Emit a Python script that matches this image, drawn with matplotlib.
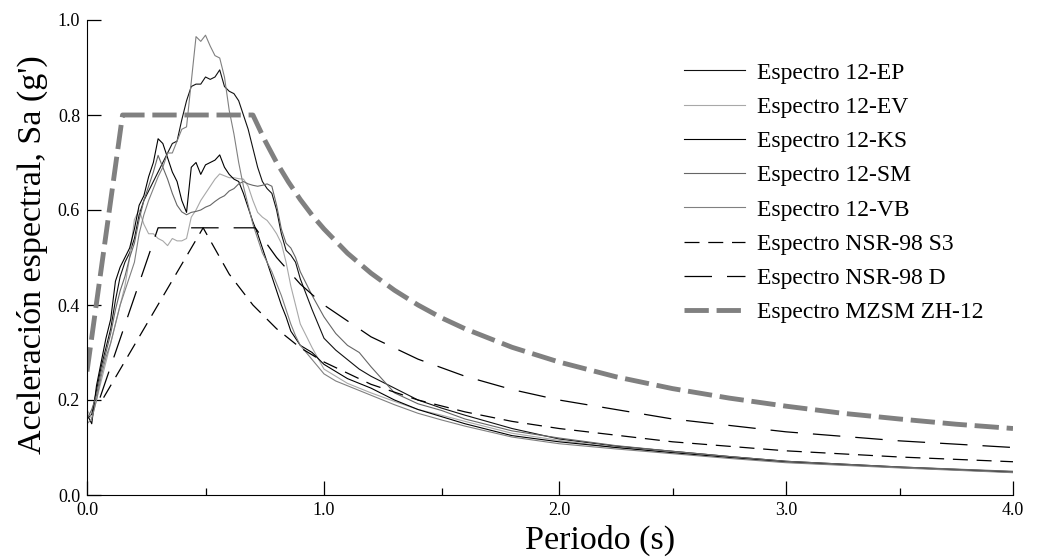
from matplotlib import pyplot as plt
from matplotlib.ticker import FixedLocator, FormatStrFormatter, MultipleLocator
import numpy as np

t_rec = [0.00, 0.02, 0.04, 0.06, 0.08, 0.10, 0.12, 0.14, 0.16, 0.18,
         0.20, 0.22, 0.24, 0.26, 0.28, 0.30, 0.32, 0.34, 0.36, 0.38,
         0.40, 0.42, 0.44, 0.46, 0.48, 0.50, 0.52, 0.54, 0.56, 0.58,
         0.60, 0.62, 0.64, 0.66, 0.68, 0.70, 0.72, 0.74, 0.76, 0.78,
         0.80, 0.82, 0.84, 0.86, 0.88, 0.90, 0.95, 1.00, 1.05, 1.10,
         1.15, 1.20, 1.30, 1.40, 1.50, 1.60, 1.80, 2.00, 2.25, 2.50,
         2.75, 3.00, 3.50, 4.00]

sa_ep = [0.16, 0.17, 0.22, 0.27, 0.31, 0.35, 0.41, 0.46, 0.49, 0.51,
         0.54, 0.59, 0.62, 0.64, 0.66, 0.68, 0.70, 0.72, 0.74, 0.745,
         0.79, 0.83, 0.86, 0.865, 0.865, 0.88, 0.875, 0.88, 0.895, 0.86,
         0.85, 0.845, 0.83, 0.80, 0.77, 0.73, 0.69, 0.66, 0.645, 0.635,
         0.60, 0.55, 0.515, 0.505, 0.49, 0.455, 0.39, 0.33, 0.305, 0.285,
         0.265, 0.25, 0.225, 0.20, 0.183, 0.168, 0.14, 0.118, 0.103, 0.092,
         0.081, 0.071, 0.059, 0.049]

sa_ev = [0.18, 0.16, 0.20, 0.24, 0.28, 0.32, 0.36, 0.40, 0.44, 0.50,
         0.58, 0.60, 0.57, 0.55, 0.55, 0.54, 0.535, 0.525, 0.54, 0.535,
         0.535, 0.54, 0.585, 0.60, 0.62, 0.635, 0.65, 0.665, 0.676, 0.672,
         0.668, 0.668, 0.666, 0.665, 0.65, 0.62, 0.595, 0.585, 0.578, 0.565,
         0.55, 0.53, 0.49, 0.44, 0.40, 0.36, 0.31, 0.265, 0.25, 0.235,
         0.225, 0.215, 0.197, 0.18, 0.168, 0.155, 0.13, 0.115, 0.10, 0.09,
         0.08, 0.069, 0.058, 0.049]

sa_ks = [0.17, 0.15, 0.23, 0.28, 0.33, 0.37, 0.45, 0.48, 0.50, 0.52,
         0.56, 0.61, 0.63, 0.67, 0.70, 0.75, 0.74, 0.71, 0.68, 0.66,
         0.62, 0.595, 0.69, 0.70, 0.675, 0.695, 0.70, 0.705, 0.716, 0.69,
         0.675, 0.665, 0.66, 0.635, 0.605, 0.575, 0.55, 0.52, 0.49, 0.46,
         0.43, 0.40, 0.375, 0.345, 0.33, 0.315, 0.30, 0.275, 0.26, 0.245,
         0.235, 0.225, 0.20, 0.18, 0.165, 0.15, 0.125, 0.112, 0.10, 0.089,
         0.079, 0.07, 0.058, 0.048]

sa_sm = [0.16, 0.18, 0.21, 0.26, 0.30, 0.34, 0.39, 0.43, 0.46, 0.50,
         0.53, 0.58, 0.62, 0.65, 0.68, 0.715, 0.69, 0.665, 0.635, 0.61,
         0.596, 0.59, 0.595, 0.597, 0.60, 0.606, 0.61, 0.618, 0.625, 0.63,
         0.64, 0.645, 0.655, 0.66, 0.655, 0.652, 0.65, 0.652, 0.655, 0.65,
         0.61, 0.56, 0.53, 0.52, 0.50, 0.47, 0.42, 0.375, 0.34, 0.315,
         0.30, 0.27, 0.215, 0.192, 0.178, 0.16, 0.135, 0.12, 0.104, 0.092,
         0.081, 0.071, 0.059, 0.05]

sa_vb = [0.15, 0.16, 0.20, 0.25, 0.29, 0.32, 0.36, 0.40, 0.43, 0.46,
         0.49, 0.55, 0.59, 0.62, 0.645, 0.67, 0.69, 0.72, 0.72, 0.745,
         0.77, 0.775, 0.87, 0.965, 0.955, 0.968, 0.945, 0.925, 0.92, 0.88,
         0.81, 0.76, 0.70, 0.65, 0.61, 0.57, 0.54, 0.51, 0.49, 0.47,
         0.445, 0.42, 0.39, 0.36, 0.335, 0.315, 0.285, 0.255, 0.24, 0.23,
         0.22, 0.21, 0.19, 0.172, 0.158, 0.145, 0.122, 0.108, 0.097, 0.087,
         0.077, 0.068, 0.057, 0.047]

# NSR-98 S3 (triangular shape)
t_s3 = [0.07, 0.49, 0.60, 0.70, 0.80, 0.90, 1.00, 1.20, 1.40, 1.60,
        1.80, 2.00, 2.50, 3.00, 3.50, 4.00]
sa_s3 = [0.205, 0.5625, 0.465, 0.40, 0.35, 0.31, 0.28, 0.233, 0.20, 0.175,
         0.155, 0.14, 0.112, 0.093, 0.08, 0.07]

# NSR-98 D (trapezoid)
t_d = [0.055, 0.30, 0.71, 0.80, 0.90, 1.00, 1.20, 1.40, 1.60, 1.80,
       2.00, 2.50, 3.00, 3.50, 4.00]
sa_d = [0.205, 0.5625, 0.5625, 0.50, 0.444, 0.40, 0.333, 0.286, 0.25, 0.222,
        0.20, 0.16, 0.133, 0.114, 0.10]

# MZSM ZH-12
t_mz = [0.0, 0.15, 0.70, 0.75, 0.80, 0.85, 0.90, 0.95, 1.0, 1.1, 1.2, 1.3,
        1.4, 1.5, 1.6, 1.8, 2.0, 2.25, 2.5, 2.75, 3.0, 3.25, 3.5, 3.75, 4.0]
sa_mz = [0.26, 0.80, 0.80, 0.747, 0.70, 0.659, 0.622, 0.589, 0.56, 0.509,
         0.467, 0.431, 0.40, 0.373, 0.35, 0.311, 0.28, 0.249, 0.224, 0.204,
         0.187, 0.172, 0.16, 0.149, 0.14]

x_major = [0.0, 1.0, 2.0, 3.0, 4.0]
x_minor = [0.5, 1.5, 2.5, 3.5]

# the original period axis is not quite uniform (first two seconds are wider)
x_pix = [0.0, 237.0, 472.0, 699.0, 926.0]

def fwd(t):
    t = np.asarray(t, dtype=float)
    p = np.interp(t, x_major, x_pix)
    p = np.where(t < 0, t * 237.0, p)
    p = np.where(t > 4, 926.0 + (t - 4) * 227.0, p)
    return p

def inv(p):
    p = np.asarray(p, dtype=float)
    t = np.interp(p, x_pix, x_major)
    t = np.where(p < 0, p / 237.0, t)
    t = np.where(p > 926, 4 + (p - 926.0) / 227.0, t)
    return t

plt.rcParams['font.family'] = ['Liberation Serif', 'DejaVu Serif']

fig = plt.figure(figsize=(10.46, 5.58), dpi=100)
ax = fig.add_axes([87/1046, 1-495/558, 926/1046, 475/558])
ax.set_xscale('function', functions=(fwd, inv))

lw = 0.8
ax.plot(t_rec, sa_ep, color='#111111', lw=lw, label='Espectro 12-EP')
ax.plot(t_rec, sa_ev, color='#a8a8a8', lw=lw, label='Espectro 12-EV')
ax.plot(t_rec, sa_ks, color='#000000', lw=lw, label='Espectro 12-KS')
ax.plot(t_rec, sa_sm, color='#666666', lw=lw, label='Espectro 12-SM')
ax.plot(t_rec, sa_vb, color='#808080', lw=lw, label='Espectro 12-VB')
ax.plot(t_s3, sa_s3, color='black', lw=0.9, dashes=(12, 7), label='Espectro NSR-98 S3')
ax.plot(t_d, sa_d, color='black', lw=0.9, dashes=(22, 12), label='Espectro NSR-98 D')
ax.plot(t_mz, sa_mz, color='#808080', lw=3.5, dashes=(5, 1.6), label='Espectro MZSM ZH-12')

ax.set_xlim(0, 4)
ax.set_ylim(0, 1.0)
ax.spines['top'].set_visible(False)
ax.spines['right'].set_visible(False)
ax.xaxis.set_major_locator(FixedLocator(x_major))
ax.xaxis.set_minor_locator(FixedLocator(x_minor))
ax.yaxis.set_major_locator(MultipleLocator(0.2))
ax.xaxis.set_major_formatter(FormatStrFormatter('%.1f'))
ax.yaxis.set_major_formatter(FormatStrFormatter('%.1f'))
ax.tick_params(axis='both', which='major', direction='in', length=10, width=0.9, labelsize=13, pad=5)
ax.tick_params(axis='x', which='minor', direction='in', length=5, width=0.9)

ax.set_xlabel('Periodo (s)', fontsize=24.5)
ax.xaxis.set_label_coords(0.554, -0.062)
ax.set_ylabel("Aceleración espectral, Sa (g')", fontsize=24.5)
ax.yaxis.set_label_coords(-0.042, 0.505)

leg = ax.legend(loc='upper left', bbox_to_anchor=(684/1046, 1-62/558),
                bbox_transform=fig.transFigure, frameon=False, fontsize=17,
                handlelength=2.6, handletextpad=0.5, labelspacing=0.54,
                borderaxespad=0, borderpad=0)

fig.savefig('out.png', dpi=100)
